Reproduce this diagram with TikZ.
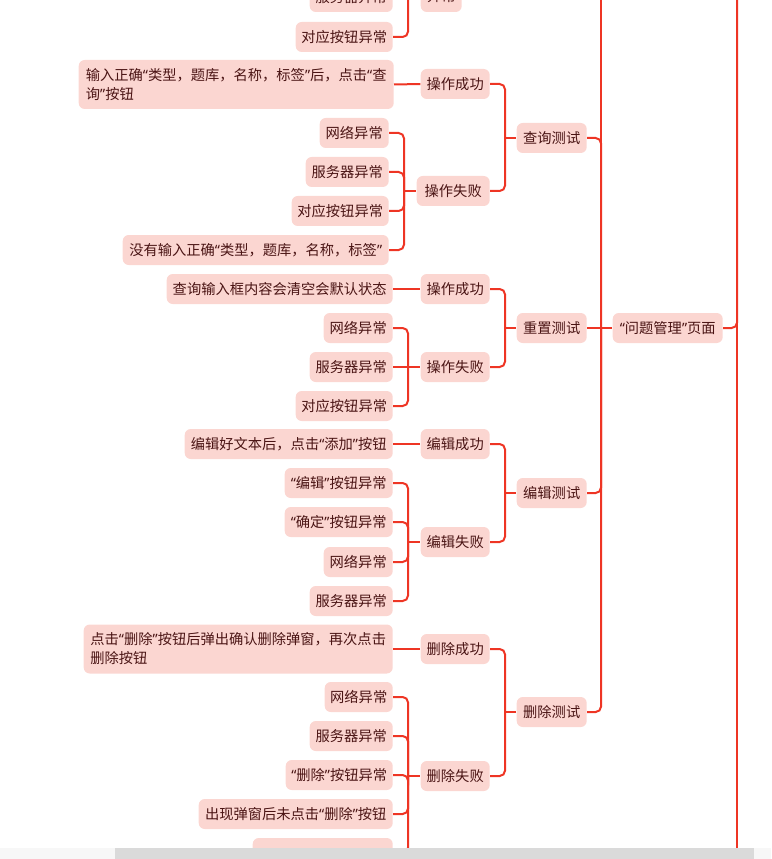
\documentclass[tikz,border=0pt]{standalone}
\usepackage{fontspec}
\setmainfont{Noto Sans CJK SC}
\newfontfamily\qfont{Noto Sans}
\newcommand\qL{{\qfont “}}
\newcommand\qR{{\qfont ”}}
\definecolor{boxfill}{HTML}{FBD6D1}
\definecolor{txt}{HTML}{4A1414}
\definecolor{lnk}{HTML}{EE3524}
\definecolor{track}{HTML}{F7F7F7}
\definecolor{thumb}{HTML}{DADADA}
\begin{document}
\begin{tikzpicture}[x=0.75pt,y=-0.75pt,
  box/.style={fill=boxfill, rounded corners=4.5pt, anchor=east, minimum height=22.5pt,
    inner xsep=4pt, inner ysep=2pt, text=txt, font=\fontsize{10.7pt}{14.25pt}\selectfont},
  bw/.style={minimum width=#1*0.75pt},
  tall/.style={minimum height=36.75pt, align=left},
  link/.style={draw=lnk, line width=1.5pt, rounded corners=4pt},
  plain/.style={draw=lnk, line width=1.5pt},
  lbl/.style={text=txt, font=\fontsize{10.7pt}{14.25pt}\selectfont, inner sep=0pt}]
\useasboundingbox (0,0) rectangle (771,859);
\clip (0,0) rectangle (771,859);

% bracket coordinates
\coordinate (PB) at (408,0);
\coordinate (QFB) at (404,0);
\coordinate (QB) at (505,0);
\coordinate (RFB) at (408,0);
\coordinate (RB) at (505,0);
\coordinate (EFB) at (408,0);
\coordinate (EB) at (505,0);
\coordinate (DFB) at (408,0);
\coordinate (DB) at (505,0);
\coordinate (B) at (601,0);
\coordinate (Btop) at (601,-40);
\coordinate (T) at (737,0);
\coordinate (Ttop) at (737,-40);
\coordinate (Tbot) at (737,880);

% ---- partial top group
\node[box,bw=83] (s0) at (393,-3) {服务器异常};
\node[box,bw=97] (k0) at (393,37) {对应按钮异常};
\node[box,bw=41,minimum height=39pt] (p0) at (462,-14) {};
\node[lbl] (p0t) at (441.5,-4) {异常};

% ---- query test
\node[box,bw=315,tall] (q1) at (394,84.5) {输入正确\qL 类型，题库，名称，标签\qR 后，点击\qL 查\\询\qR 按钮};
\node[box,bw=69] (qs) at (490,84) {操作成功};
\node[box,bw=73] (qf) at (490,191) {操作失败};
\node[box,bw=70] (qt) at (587,138) {查询测试};
\node[box,bw=69] (qf1) at (389,133) {网络异常};
\node[box,bw=83] (qf2) at (389,172) {服务器异常};
\node[box,bw=97] (qf3) at (389,211) {对应按钮异常};
\node[box,bw=266] (qf4) at (389,250) {没有输入正确\qL 类型，题库，名称，标签\qR};

% ---- reset test
\node[box,bw=226] (r1) at (393,289) {查询输入框内容会清空会默认状态};
\node[box,bw=69] (rs) at (490,289) {操作成功};
\node[box,bw=69] (rf) at (490,367) {操作失败};
\node[box,bw=70] (rt) at (587,328) {重置测试};
\node[box,bw=69] (rf1) at (393,328) {网络异常};
\node[box,bw=83] (rf2) at (393,367) {服务器异常};
\node[box,bw=97] (rf3) at (393,406) {对应按钮异常};

% ---- edit test
\node[box,bw=208] (e1) at (393,444) {编辑好文本后，点击\qL 添加\qR 按钮};
\node[box,bw=69] (es) at (490,444) {编辑成功};
\node[box,bw=69] (ef) at (490,542) {编辑失败};
\node[box,bw=70] (et) at (587,493) {编辑测试};
\node[box,bw=108] (ef1) at (393,483) {\qL 编辑\qR 按钮异常};
\node[box,bw=108] (ef2) at (393,522) {\qL 确定\qR 按钮异常};
\node[box,bw=69] (ef3) at (393,562) {网络异常};
\node[box,bw=83] (ef4) at (393,601) {服务器异常};

% ---- delete test
\node[box,bw=309,tall] (d1) at (393,649) {点击\qL 删除\qR 按钮后弹出确认删除弹窗，再次点击\\删除按钮};
\node[box,bw=69] (ds) at (490,649) {删除成功};
\node[box,bw=69] (df) at (490,776) {删除失败};
\node[box,bw=70] (dt) at (587,712) {删除测试};
\node[box,bw=68] (df1) at (393,697) {网络异常};
\node[box,bw=83] (df2) at (393,736) {服务器异常};
\node[box,bw=107] (df3) at (393,775) {\qL 删除\qR 按钮异常};
\node[box,bw=194] (df4) at (393,814) {出现弹窗后未点击\qL 删除\qR 按钮};
\node[box,bw=140] (df5) at (393,853) {};

% ---- page node
\node[box,bw=110] (wt) at (723,328) {\qL 问题管理\qR 页面};

% ===== connectors
% partial top group
\draw[link] (s0.east) -- (s0.east -| PB) -- (PB |- p0.west);
\draw[link] (k0.east) -- (k0.east -| PB) -- (PB |- p0.west);
\draw[plain] (PB |- p0.west) -- (p0.west);

% query
\draw[plain] (q1.east) -- (qs.west);
\draw[link] (qf1.east) -- (qf1.east -| QFB) -- (QFB |- qf.west);
\draw[link] (qf2.east) -- (qf2.east -| QFB) -- (QFB |- qf.west);
\draw[link] (qf3.east) -- (qf3.east -| QFB) -- (QFB |- qf.west);
\draw[link] (qf4.east) -- (qf4.east -| QFB) -- (QFB |- qf.west);
\draw[plain] (QFB |- qf.west) -- (qf.west);
\draw[link] (qs.east) -- (qs.east -| QB) -- (QB |- qt.west);
\draw[link] (qf.east) -- (qf.east -| QB) -- (QB |- qt.west);
\draw[plain] (QB |- qt.west) -- (qt.west);

% reset
\draw[plain] (r1.east) -- (rs.west);
\draw[link] (rf1.east) -- (rf1.east -| RFB) -- (RFB |- rf.west);
\draw[plain] (rf2.east) -- (rf.west);
\draw[link] (rf3.east) -- (rf3.east -| RFB) -- (RFB |- rf.west);
\draw[link] (rs.east) -- (rs.east -| RB) -- (RB |- rt.west);
\draw[link] (rf.east) -- (rf.east -| RB) -- (RB |- rt.west);
\draw[plain] (RB |- rt.west) -- (rt.west);

% edit
\draw[plain] (e1.east) -- (es.west);
\draw[link] (ef1.east) -- (ef1.east -| EFB) -- (EFB |- ef.west);
\draw[link] (ef2.east) -- (ef2.east -| EFB) -- (EFB |- ef.west);
\draw[link] (ef3.east) -- (ef3.east -| EFB) -- (EFB |- ef.west);
\draw[link] (ef4.east) -- (ef4.east -| EFB) -- (EFB |- ef.west);
\draw[plain] (EFB |- ef.west) -- (ef.west);
\draw[link] (es.east) -- (es.east -| EB) -- (EB |- et.west);
\draw[link] (ef.east) -- (ef.east -| EB) -- (EB |- et.west);
\draw[plain] (EB |- et.west) -- (et.west);

% delete
\draw[plain] (d1.east) -- (ds.west);
\draw[link] (df1.east) -- (df1.east -| DFB) -- (DFB |- df.west);
\draw[link] (df2.east) -- (df2.east -| DFB) -- (DFB |- df.west);
\draw[link] (df3.east) -- (df3.east -| DFB) -- (DFB |- df.west);
\draw[link] (df4.east) -- (df4.east -| DFB) -- (DFB |- df.west);
\draw[link] (df5.east) -- (df5.east -| DFB) -- (DFB |- df.west);
\draw[plain] (DFB |- df.west) -- (df.west);
\draw[link] (ds.east) -- (ds.east -| DB) -- (DB |- dt.west);
\draw[link] (df.east) -- (df.east -| DB) -- (DB |- dt.west);
\draw[plain] (DB |- dt.west) -- (dt.west);

% tests to page
\draw[plain] (Btop) -- (B |- wt.west);
\draw[link] (qt.east) -- (qt.east -| B) -- (B |- wt.west);
\draw[plain] (rt.east) -- (wt.west);
\draw[link] (et.east) -- (et.east -| B) -- (B |- wt.west);
\draw[link] (dt.east) -- (dt.east -| B) -- (B |- wt.west);

% page to top level
\draw[plain] (Ttop) -- (Tbot);
\draw[link] (wt.east) -- (wt.east -| T) -- (Ttop);

% scrollbar
\fill[track] (0,848) rectangle (771,859);
\fill[thumb] (115,848) rectangle (754,859);
\end{tikzpicture}
\end{document}
